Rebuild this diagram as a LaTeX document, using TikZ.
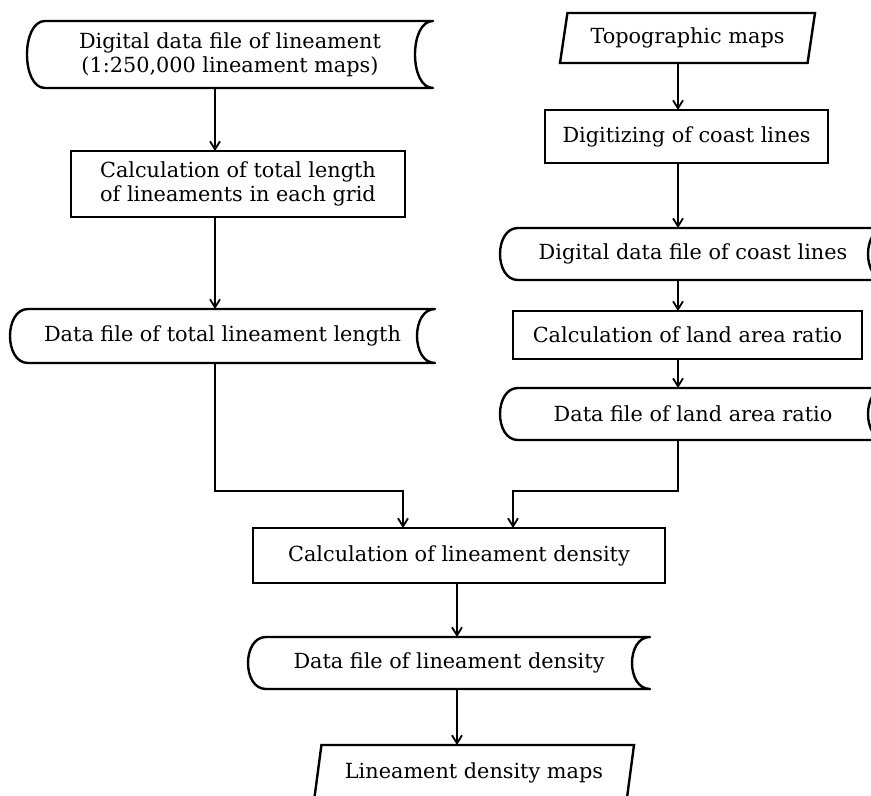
\documentclass[tikz,border=0pt]{standalone}
\usepackage{fontspec}
\setmainfont{DejaVu Serif}
\usetikzlibrary{shapes.geometric,arrows.meta}

\tikzset{
  every node/.style={font=\fontsize{10.4}{11.8}\selectfont, outer sep=0pt},
  procbox/.style={draw, line width=1.2pt, align=center, inner sep=0pt},
  filebox/.style={align=center, inner sep=0pt},
  mapbox/.style={draw, line width=1.2pt, shape=trapezium, trapezium left angle=70,
    trapezium right angle=110, trapezium stretches body, inner sep=0pt},
  fileline/.style={line width=1.2pt, line join=round},
  flow/.style={line width=0.9pt, -{Straight Barb[length=4pt,width=5pt]}}
}

% 数据文件的外框
\newcommand{\fileoutline}[1]{%
  \draw[fileline] ([xshift=9pt]#1.north west) -- (#1.north east)
    .. controls ([xshift=-12pt]#1.north east) and ([xshift=-12pt]#1.south east) .. (#1.south east)
    -- ([xshift=9pt]#1.south west)
    .. controls ([xshift=-3pt]#1.south west) and ([xshift=-3pt]#1.north west) .. cycle;}

\begin{document}
\begin{tikzpicture}[x=0.5pt, y=-0.5pt]
        \useasboundingbox (0,0) rectangle (871,796);
        \clip (0,0) rectangle (871,796);

        % 左列
        \node[filebox, minimum width=203pt, minimum height=33.5pt] (linfile) at (230,54.5)
            {Digital data file of lineament\\(1:250,000 lineament maps)};
        \node[procbox, minimum width=167pt, minimum height=33pt] (totcalc) at (238,184)
            {Calculation of total length\\of lineaments in each grid};
        \node[filebox, minimum width=212.5pt, minimum height=27pt] (totfile) at (222.5,336)
            {Data file of total lineament length};

        % 右列
        \node[mapbox, minimum width=127.5pt, minimum height=25pt] (topo) at (687.5,38)
            {Topographic maps};
        \node[procbox, minimum width=141.5pt, minimum height=26.5pt] (digit) at (686.5,136.5)
            {Digitizing of coast lines};
        \node[filebox, minimum width=193pt, minimum height=26pt] (coastfile) at (693,254)
            {Digital data file of coast lines};
        \node[procbox, minimum width=174.5pt, minimum height=24pt] (landcalc) at (687.5,335)
            {Calculation of land area ratio};
        \node[filebox, minimum width=193pt, minimum height=26pt] (landfile) at (693,414)
            {Data file of land area ratio};

        % 中间
        \node[procbox, minimum width=206pt, minimum height=27.5pt] (denscalc) at (459,555.5)
            {Calculation of lineament density};
        \node[filebox, minimum width=201pt, minimum height=26pt] (densfile) at (449,663)
            {Data file of lineament density};
        \node[mapbox, minimum width=160pt, minimum height=28pt] (densmap) at (474,773)
            {Lineament density maps};

        \fileoutline{linfile}
        \fileoutline{totfile}
        \fileoutline{coastfile}
        \fileoutline{landfile}
        \fileoutline{densfile}

        % 连线
        \coordinate (lcol) at (215,0);
        \coordinate (mcol) at (457,0);
        \coordinate (rcol) at (678,0);
        \coordinate (inL) at (403,0);
        \coordinate (inR) at (513,0);
        \coordinate (join) at (0,491);

        \draw[flow] (linfile.south -| lcol) -- (totcalc.north -| lcol);
        \draw[flow] (totcalc.south -| lcol) -- (totfile.north -| lcol);
        \draw[flow] (totfile.south -| lcol) |- (join -| inL) -- (denscalc.north -| inL);

        \draw[flow] (topo.south -| rcol) -- (digit.north -| rcol);
        \draw[flow] (digit.south -| rcol) -- (coastfile.north -| rcol);
        \draw[flow] (coastfile.south -| rcol) -- (landcalc.north -| rcol);
        \draw[flow] (landcalc.south -| rcol) -- (landfile.north -| rcol);
        \draw[flow] (landfile.south -| rcol) |- (join -| inR) -- (denscalc.north -| inR);

        \draw[flow] (denscalc.south -| mcol) -- (densfile.north -| mcol);
        \draw[flow] (densfile.south -| mcol) -- (densmap.north -| mcol);
\end{tikzpicture}
\end{document}
